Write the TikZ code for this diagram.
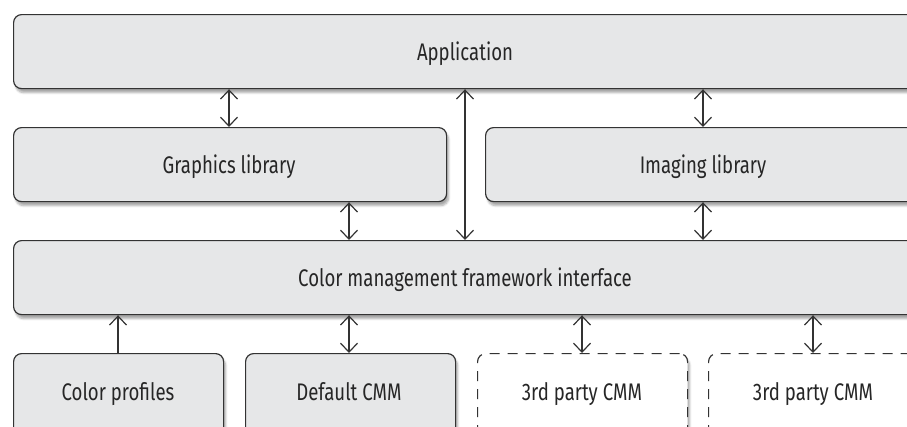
\documentclass[tikz,border=0pt]{standalone}
\usepackage{fontspec}
\setmainfont[FakeStretch=0.775]{Fira Sans}
\usetikzlibrary{arrows.meta,shadows.blur}
\definecolor{boxfill}{HTML}{E6E7E8}
\definecolor{edge}{HTML}{333333}
\tikzset{
  label/.style={font=\fontsize{24}{28}\selectfont, text=black!85, anchor=base, inner sep=0pt},
  layer/.style={draw=edge, line width=1.2pt, fill=boxfill, rounded corners=8pt,
    blur shadow={shadow xshift=2pt, shadow yshift=-4pt, shadow blur steps=6, shadow opacity=35},
    anchor=north west, inner sep=0pt},
  plugin/.style={layer, fill=white, dash pattern=on 10pt off 8pt},
  link/.style={draw=edge, line width=1.2pt, {Straight Barb[length=9pt,width=17pt]}-{Straight Barb[length=9pt,width=17pt]}},
  uplink/.style={draw=edge, line width=1.2pt, -{Straight Barb[length=9pt,width=17pt]}}
}
\begin{document}
\begin{tikzpicture}[x=1pt,y=-1pt]
\useasboundingbox (0,0) rectangle (907,426);
\clip (0,0) rectangle (907,426);
% layers
\node[layer, minimum width=920pt, minimum height=74pt] (app) at (13,14) {};
\node[label] (appt) at (465,60) {Application};
\node[layer, minimum width=433pt, minimum height=74pt] (gfx) at (13,127) {};
\node[label] (gfxt) at (229,173) {Graphics library};
\node[layer, minimum width=440pt, minimum height=74pt] (img) at (485,127) {};
\node[label] (imgt) at (703,173) {Imaging library};
\node[layer, minimum width=920pt, minimum height=74pt] (cmf) at (13,240) {};
\node[label] (cmft) at (465,286) {Color management framework interface};
% modules
\node[layer, minimum width=210pt, minimum height=92pt] (prof) at (13,353) {};
\node[label] (proft) at (118,400) {Color profiles};
\node[layer, minimum width=210pt, minimum height=92pt] (dcmm) at (245,353) {};
\node[label] (dcmmt) at (349,400) {Default CMM};
\node[plugin, minimum width=210pt, minimum height=92pt] (cmma) at (477,353) {};
\node[label] (cmmat) at (582,400) {3rd party CMM};
\node[plugin, minimum width=210pt, minimum height=92pt] (cmmb) at (708,353) {};
\node[label] (cmmbt) at (813,400) {3rd party CMM};
% connectors
\draw[link] (app.south -| 229,0) -- (gfx.north -| 229,0);
\draw[link] (app.south -| 703,0) -- (img.north -| 703,0);
\draw[link] (app.south -| 465,0) -- (cmf.north -| 465,0);
\draw[link] (gfx.south -| 349,0) -- (cmf.north -| 349,0);
\draw[link] (img.south -| 703,0) -- (cmf.north -| 703,0);
\draw[uplink] (prof.north -| 118,0) -- (cmf.south -| 118,0);
\draw[link] (cmf.south -| 349,0) -- (dcmm.north -| 349,0);
\draw[link] (cmf.south -| 582,0) -- (cmma.north -| 582,0);
\draw[link] (cmf.south -| 813,0) -- (cmmb.north -| 813,0);
\end{tikzpicture}
\end{document}
